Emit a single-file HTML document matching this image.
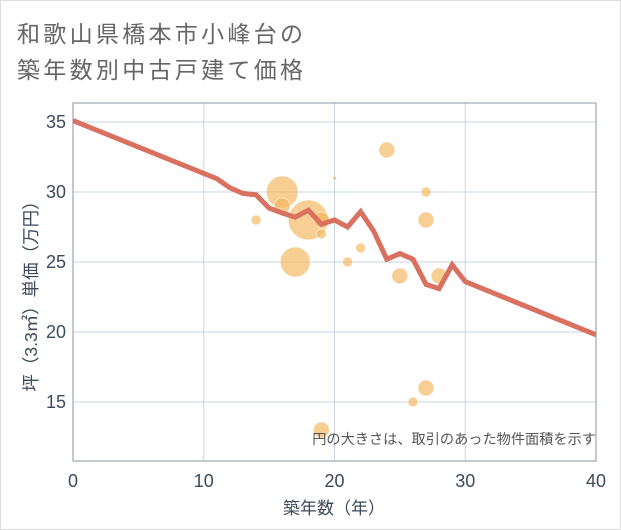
<!DOCTYPE html>
<html><head><meta charset="utf-8"><style>
html,body{margin:0;padding:0;background:#fff;}
svg{display:block;font-family:"Liberation Sans","Noto Sans CJK JP",sans-serif;}
</style></head><body>
<svg id="chart" width="621" height="530">
<rect x="0.5" y="0.5" width="620" height="529" fill="#fff" stroke="#ddd"/>
<text x="17" y="42" font-size="23" fill="#666" letter-spacing="3.3" font-family="'Liberation Sans','Noto Sans CJK JP',sans-serif">和歌山県橋本市小峰台の</text>
<text x="17" y="78" font-size="23" fill="#666" letter-spacing="3.3" font-family="'Liberation Sans','Noto Sans CJK JP',sans-serif">築年数別中古戸建て価格</text>
<g id="grid"></g>
<g id="bubbles"></g>
<g id="line"></g>
<rect x="73" y="103" width="523" height="358" fill="none" stroke="#8a94a0" stroke-width="1"/>
<g id="ticks"></g>
<text x="596" y="444" font-size="14.2" fill="#555" text-anchor="end" font-family="'Liberation Sans','Noto Sans CJK JP',sans-serif">円の大きさは、取引のあった物件面積を示す</text>
<text x="334" y="514" font-size="17" fill="#3c4a5a" text-anchor="middle" font-family="'Liberation Sans','Noto Sans CJK JP',sans-serif">築年数（年）</text>
<text transform="translate(37,292) rotate(-90)" font-size="17.5" fill="#3c4a5a" text-anchor="middle" font-family="'Liberation Sans','Noto Sans CJK JP',sans-serif">坪（3.3㎡）単価（万円）</text>
</svg>
<script>
const xTicks=[0,10,20,30,40];
const yTicks=[15,20,25,30,35];
const lineAges=[0,11,12,13,14,15,16,17,18,19,20,21,22,23,24,25,26,27,28,29,30,40];
const linePrices=[35.1,30.95,30.3,29.9,29.8,28.85,28.5,28.2,28.7,27.7,28.0,27.5,28.6,27.2,25.2,25.6,25.2,23.4,23.1,24.8,23.6,19.8];
const bubbleAges=[14,16,16,17,18,19,19,19,20,21,22,24,25,26,27,27,27,28];
const bubblePrices=[28,30,29,25,28,28,27,13,31,25,26,33,24,15,30,28,16,24];
const bubbleSizes=[5,16,8,15,20,8,5,8,2,5,5,8,8,5,5,8,8,8];
const NS="http://www.w3.org/2000/svg";
const xs=v=>73+(v-0)*(596-73)/40;
const ys=v=>122+(35-v)*14;
function mk(t,a,p){const e=document.createElementNS(NS,t);for(const k in a)e.setAttribute(k,a[k]);p.appendChild(e);return e;}
const grid=document.getElementById('grid'),ticks=document.getElementById('ticks');
xTicks.forEach(v=>{
 const l=mk('line',{x1:xs(v),x2:xs(v),y1:103,y2:461,stroke:'#c9d5e3','stroke-width':1},grid);
 
 
 const t=mk('text',{x:xs(v),y:487,'font-size':18,fill:'#3c4a5a','text-anchor':'middle'},ticks);
 t.textContent=v;
 
 
});
yTicks.forEach(v=>{
 const l=mk('line',{x1:73,x2:596,y1:ys(v),y2:ys(v),stroke:'#c9d5e3','stroke-width':1},grid);
 
 
 const t=mk('text',{x:66,y:ys(v)+6,'font-size':18,fill:'#3c4a5a','text-anchor':'end'},ticks);
 t.textContent=v;
 
 
});
const bg=document.getElementById('bubbles');
bubbleAges.forEach((a,i)=>{
 const c=mk('circle',{cx:xs(a),cy:ys(bubblePrices[i]),r:bubbleSizes[i],fill:'#f2b65a','fill-opacity':0.65,stroke:'#fff','stroke-opacity':0.5},bg);
 
 
});
const pts=lineAges.map((a,i)=>xs(a)+','+ys(linePrices[i])).join(' ');
const pl=mk('polyline',{points:pts,fill:'none',stroke:'#d97060','stroke-width':5,'stroke-linejoin':'miter'},document.getElementById('line'));


</script>
</body></html>
